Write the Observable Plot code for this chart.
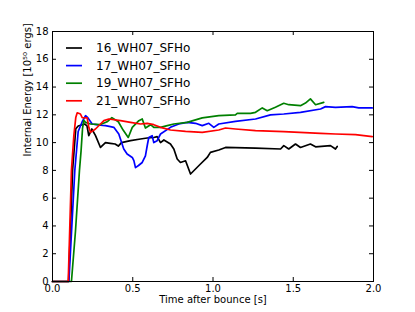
<!DOCTYPE html>
<html>
<head>
<meta charset="utf-8">
<script src="https://cdn.jsdelivr.net/npm/d3@7"></script>
<script src="https://cdn.jsdelivr.net/npm/@observablehq/plot@0.6"></script>
<style>
  html, body { margin: 0; padding: 0; background: #fff; }
  #chart { width: 415px; height: 312px; }
</style>
</head>
<body>
<div id="chart"></div>
<script>
// Series names and colours
const seriesNames = ["16_WH07_SFHo", "17_WH07_SFHo", "19_WH07_SFHo", "21_WH07_SFHo"];
const seriesColors = ["#000000", "#0000ff", "#008000", "#ff0000"];

// 16_WH07_SFHo
const t16 = [0, 0.1, 0.125, 0.145, 0.16, 0.2, 0.215, 0.226, 0.245, 0.268, 0.299, 0.33, 0.36, 0.39, 0.41, 0.43, 0.486, 0.548, 0.59, 0.631, 0.652, 0.673, 0.694, 0.735, 0.756, 0.777, 0.797, 0.829, 0.86, 0.891, 0.922, 0.964, 0.984, 1.036, 1.078, 1.265, 1.421, 1.441, 1.472, 1.514, 1.545, 1.607, 1.639, 1.732, 1.763, 1.774];
const v16 = [0, 0, 8, 11.0, 11.2, 11.34, 11.2, 10.5, 10.98, 10.5, 9.65, 10.0, 9.95, 9.9, 9.75, 10.0, 10.14, 10.26, 10.33, 10.37, 10.43, 10.0, 10.19, 9.9, 9.54, 8.82, 8.57, 8.69, 7.74, 8.1, 8.46, 8.93, 9.3, 9.47, 9.65, 9.61, 9.54, 9.78, 9.54, 9.9, 9.65, 9.9, 9.7, 9.78, 9.54, 9.72];

// 17_WH07_SFHo
const t17 = [0, 0.102, 0.139, 0.16, 0.185, 0.206, 0.22, 0.247, 0.274, 0.299, 0.33, 0.361, 0.382, 0.413, 0.444, 0.465, 0.497, 0.507, 0.517, 0.536, 0.559, 0.579, 0.592, 0.6, 0.621, 0.631, 0.652, 0.673, 0.735, 0.787, 0.839, 0.891, 0.933, 0.974, 1.005, 1.036, 1.14, 1.265, 1.358, 1.441, 1.545, 1.67, 1.701, 1.763, 1.867, 1.908, 1.992];
const v17 = [0, 0, 8, 10.8, 11.5, 11.94, 11.8, 11.34, 11.3, 11.25, 11.22, 11.15, 11.1, 10.62, 9.54, 9.18, 8.93, 8.7, 8.2, 8.35, 8.57, 9.05, 9.9, 10.37, 10.5, 10.0, 10.14, 10.62, 11.1, 11.34, 11.46, 11.39, 11.22, 11.39, 11.1, 11.34, 11.53, 11.7, 12.0, 12.06, 12.18, 12.42, 12.59, 12.54, 12.59, 12.5, 12.5];

// 19_WH07_SFHo
const t19 = [0, 0.118, 0.143, 0.168, 0.178, 0.187, 0.195, 0.206, 0.237, 0.299, 0.34, 0.37, 0.41, 0.44, 0.472, 0.497, 0.538, 0.559, 0.579, 0.611, 0.631, 0.673, 0.715, 0.756, 0.839, 0.933, 1.036, 1.14, 1.151, 1.234, 1.265, 1.307, 1.338, 1.389, 1.441, 1.472, 1.545, 1.576, 1.607, 1.639, 1.69];
const v19 = [0, 0, 3.6, 8, 9.4, 11.0, 11.6, 11.46, 11.34, 11.3, 11.5, 11.8, 11.5, 10.9, 10.37, 11.1, 11.58, 11.7, 11.05, 11.29, 11.1, 11.1, 11.22, 11.34, 11.46, 11.78, 11.94, 12.0, 12.1, 12.1, 12.18, 12.5, 12.3, 12.55, 12.83, 12.73, 12.66, 12.85, 13.15, 12.73, 12.9];

// 21_WH07_SFHo
const t21 = [0, 0.098, 0.118, 0.133, 0.145, 0.154, 0.174, 0.185, 0.216, 0.226, 0.237, 0.268, 0.299, 0.32, 0.351, 0.424, 0.486, 0.548, 0.59, 0.631, 0.673, 0.735, 0.829, 0.933, 1.036, 1.078, 1.14, 1.265, 1.441, 1.67, 1.763, 1.888, 1.992];
const v21 = [0, 0, 8, 10.5, 11.8, 12.15, 12.06, 11.8, 11.78, 11.1, 10.74, 10.98, 11.34, 11.58, 11.7, 11.58, 11.46, 11.34, 11.39, 11.29, 11.1, 10.91, 10.81, 10.74, 10.91, 11.05, 10.98, 10.86, 10.79, 10.67, 10.62, 10.57, 10.43];

// Axis ticks
const xTicks = [0, 0.5, 1.0, 1.5, 2.0];
const yTicks = [0, 2, 4, 6, 8, 10, 12, 14, 16, 18];

const xLabel = "Time after bounce [s]";
const yLabel = "Internal Energy [10⁵⁰ ergs]";

const times = [t16, t17, t19, t21];
const values = [v16, v17, v19, v21];
const rows = [];
seriesNames.forEach((name, i) => {
  times[i].forEach((t, j) => rows.push({series: name, t, v: values[i][j]}));
});

const W = 415, H = 312;
const mL = 52, mR = 42, mT = 31, mB = 31;
const plotW = W - mL - mR, plotH = H - mT - mB;
const tickLen = 4;

const chart = Plot.plot({
  width: W,
  height: H,
  marginLeft: mL,
  marginRight: mR,
  marginTop: mT,
  marginBottom: mB,
  style: {fontFamily: "'DejaVu Sans', sans-serif", fontSize: "10px", color: "#000", background: "#fff"},
  x: {domain: [0, 2], ticks: xTicks, tickFormat: d3.format(".1f")},
  y: {domain: [0, 18], ticks: yTicks, tickFormat: d3.format("d")},
  color: {domain: seriesNames, range: seriesColors},
  marks: [
    Plot.lineY(rows, {x: "t", y: "v", z: "series", stroke: "series", strokeWidth: 1.7}),
    Plot.frame({stroke: "#000", strokeWidth: 1}),
    // inward ticks on all sides
    Plot.tickX(xTicks, {x: d => d, insetTop: plotH - tickLen, stroke: "#000"}),
    Plot.tickX(xTicks, {x: d => d, insetBottom: plotH - tickLen, stroke: "#000"}),
    Plot.tickY(yTicks, {y: d => d, insetRight: plotW - tickLen, stroke: "#000"}),
    Plot.tickY(yTicks, {y: d => d, insetLeft: plotW - tickLen, stroke: "#000"}),
    Plot.axisX({anchor: "bottom", ticks: xTicks, tickSize: 0, tickPadding: 3, label: null, tickFormat: d3.format(".1f")}),
    Plot.axisY({anchor: "left", ticks: yTicks, tickSize: 0, tickPadding: 4, label: null, tickFormat: d3.format("d")}),
    Plot.text([xLabel], {frameAnchor: "bottom", dy: 21, fontSize: 10, fill: "#000"}),
    Plot.text([yLabel], {frameAnchor: "left", rotate: -90, dx: -25, fontSize: 10, fill: "#000"})
  ]
});

// Legend inside the plot, upper left
const svg = d3.select(chart);
const legend = svg.append("g")
  .attr("font-family", "'DejaVu Sans', sans-serif")
  .attr("font-size", 12)
  .attr("text-anchor", "start");
seriesNames.forEach((name, i) => {
  const y = 48 + i * 17.6;
  legend.append("line").attr("x1", 66).attr("x2", 82).attr("y1", y).attr("y2", y)
    .attr("stroke", seriesColors[i]).attr("stroke-width", 1.7);
  legend.append("text").attr("x", 96).attr("y", y).attr("dy", "0.35em")
    .attr("text-anchor", "start").attr("fill", "#000").text(name);
});

document.getElementById("chart").appendChild(chart);
</script>
</body>
</html>
